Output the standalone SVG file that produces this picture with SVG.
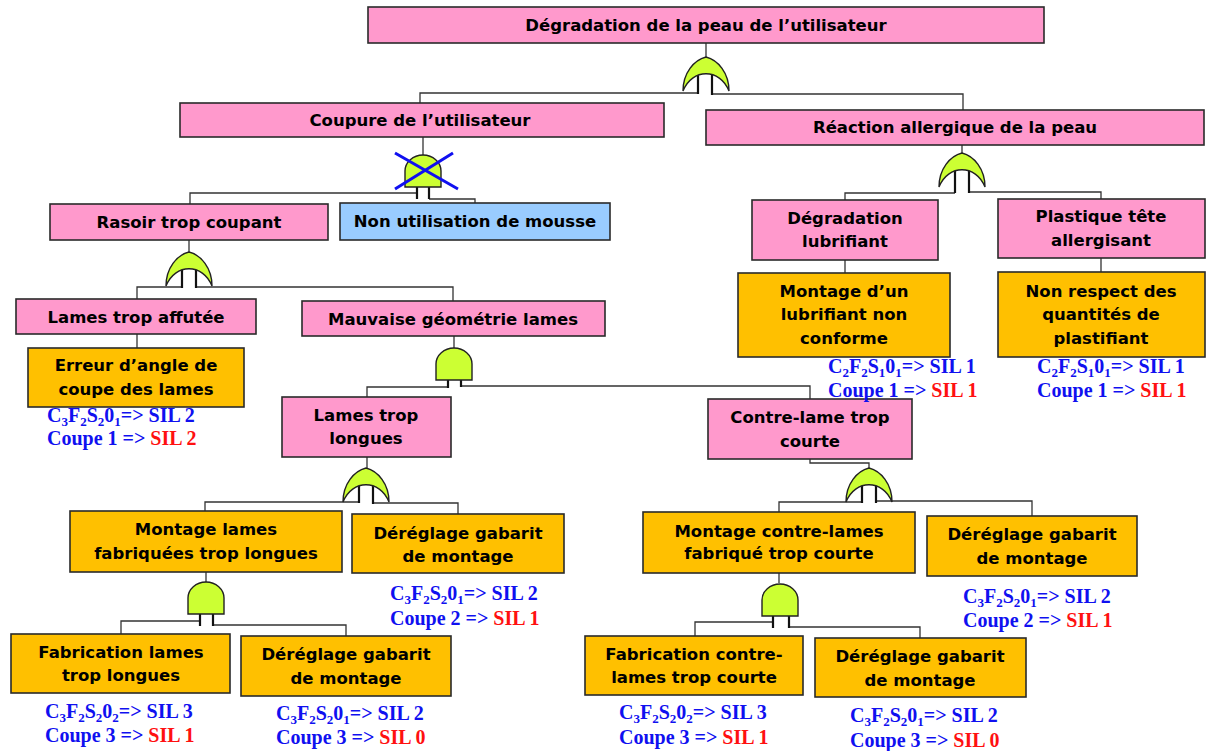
<svg xmlns="http://www.w3.org/2000/svg" xmlns:xlink="http://www.w3.org/1999/xlink" width="1218" height="751" viewBox="0 0 1218 751">
<style>
.bx{stroke:#2a2a2a;stroke-width:1.6}
.pk{fill:#FF99CC}.og{fill:#FFC000}.bl{fill:#99CCFF}
.t{font-family:"DejaVu Sans",sans-serif;font-weight:bold;font-size:16.5px;fill:#000;text-anchor:middle}
.lb{font-family:"Liberation Serif","Times New Roman",serif;font-weight:bold;font-size:20px;fill:#1010F0}
.s{font-size:13px}
.r{fill:#FF1010}
.c{fill:none;stroke:#333;stroke-width:1.3}
.leg{fill:none;stroke:#111;stroke-width:2.2}
.g{fill:#CCFF33;stroke:#222;stroke-width:1.4}
</style>
<defs>
<path id="or" d="M-23,34 C-23,16 -12,3 0,0 C12,3 23,16 23,34 C14,11 -14,11 -23,34 Z"/>
<path id="and" d="M-18,32 L-18,16 A18,16 0 0 1 18,16 L18,32 Z"/>
</defs>
<rect width="1218" height="751" fill="#fff"/>

<g id="connectors">
<path class="c" d="M706,43 V57"/>
<path class="c" d="M698,93 H420 V103 M712,94 H963 V110"/>
<path class="c" d="M423,137 V155"/>
<path class="c" d="M417,193 H190 V204 M429,199 H475 V203"/>
<path class="c" d="M962,145 V153"/>
<path class="c" d="M955,193 H845 V200 M969,192 H1101 V199"/>
<path class="c" d="M845,260 V273 M1101,258 V272"/>
<path class="c" d="M189,240 V252"/>
<path class="c" d="M182,287 H137 V299 M196,287 H453 V301"/>
<path class="c" d="M137,334 V348"/>
<path class="c" d="M454,336 V348"/>
<path class="c" d="M448,387 H367 V397 M461,386 H810 V399"/>
<path class="c" d="M367,457 V468"/>
<path class="c" d="M359,502 H205 V511 M373,503 H458 V514"/>
<path class="c" d="M810,459 V463 H869 V468"/>
<path class="c" d="M862,502 H779 V512 M876,501 H1032 V516"/>
<path class="c" d="M206,572 V582"/>
<path class="c" d="M200,621 H121 V634 M213,625 H346 V636"/>
<path class="c" d="M779,573 V583"/>
<path class="c" d="M773,622 H695 V636 M789,627 H920 V638"/>
<path class="leg" d="M698,74 V94 M712,74 V95"/>
<path class="leg" d="M417,187 V199 M429,187 V199"/>
<path class="leg" d="M955,170 V193 M969,170 V193"/>
<path class="leg" d="M182,269 V288 M196,269 V288"/>
<path class="leg" d="M448,380 V388 M461,380 V387"/>
<path class="leg" d="M359,485 V503 M373,485 V504"/>
<path class="leg" d="M862,485 V503 M876,485 V503"/>
<path class="leg" d="M200,613 V626 M213,613 V626"/>
<path class="leg" d="M773,616 V628 M789,616 V628"/>
</g>

<g id="gate-or-top"><use xlink:href="#or" class="g" transform="translate(706,57)"/></g>
<g id="gate-and-coupure"><use xlink:href="#and" class="g" transform="translate(423,155)"/>
<path d="M395,153 L458,189 M453,153 L395,189" stroke="#1010F0" stroke-width="3" fill="none"/></g>
<g id="gate-or-reaction"><use xlink:href="#or" class="g" transform="translate(962,153)"/></g>
<g id="gate-or-rasoir"><use xlink:href="#or" class="g" transform="translate(189,252)"/></g>
<g id="gate-and-mauvaise"><use xlink:href="#and" class="g" transform="translate(454,348)"/></g>
<g id="gate-or-lames"><use xlink:href="#or" class="g" transform="translate(366,468)"/></g>
<g id="gate-or-contre"><use xlink:href="#or" class="g" transform="translate(869,468)"/></g>
<g id="gate-and-montage-lames"><use xlink:href="#and" class="g" transform="translate(206,582)"/></g>
<g id="gate-and-montage-contre"><use xlink:href="#and" class="g" transform="translate(780,584)"/></g>

<g id="n-top"><rect class="bx pk" x="368" y="7" width="676" height="36"/><text class="t" x="706" y="31">Dégradation de la peau de l’utilisateur</text></g>
<g id="n-coupure"><rect class="bx pk" x="180" y="103" width="484" height="34"/><text class="t" x="420" y="126">Coupure de l’utilisateur</text></g>
<g id="n-reaction"><rect class="bx pk" x="706" y="110" width="498" height="35"/><text class="t" x="955" y="133">Réaction allergique de la peau</text></g>
<g id="n-rasoir"><rect class="bx pk" x="50" y="204" width="278" height="36"/><text class="t" x="189" y="228">Rasoir trop coupant</text></g>
<g id="n-mousse"><rect class="bx bl" x="340" y="203" width="270" height="37"/><text class="t" x="475" y="227">Non utilisation de mousse</text></g>
<g id="n-deg-lub"><rect class="bx pk" x="752" y="200" width="186" height="60"/><text class="t" x="845" y="224">Dégradation</text><text class="t" x="845" y="247">lubrifiant</text></g>
<g id="n-plastique"><rect class="bx pk" x="998" y="199" width="207" height="59"/><text class="t" x="1101" y="222">Plastique tête</text><text class="t" x="1101" y="246">allergisant</text></g>
<g id="n-montage-lub"><rect class="bx og" x="738" y="273" width="212" height="84"/><text class="t" x="844" y="297">Montage d’un</text><text class="t" x="844" y="320">lubrifiant non</text><text class="t" x="844" y="344">conforme</text></g>
<g id="n-non-respect"><rect class="bx og" x="998" y="272" width="207" height="85"/><text class="t" x="1101" y="297">Non respect des</text><text class="t" x="1101" y="320">quantités de</text><text class="t" x="1101" y="344">plastifiant</text></g>
<g id="n-lames-affutee"><rect class="bx pk" x="16" y="299" width="240" height="35"/><text class="t" x="136" y="323">Lames trop affutée</text></g>
<g id="n-mauvaise"><rect class="bx pk" x="302" y="301" width="303" height="35"/><text class="t" x="453" y="325">Mauvaise géométrie lames</text></g>
<g id="n-erreur"><rect class="bx og" x="28" y="348" width="216" height="59"/><text class="t" x="136" y="371">Erreur d’angle de</text><text class="t" x="136" y="395">coupe des lames</text></g>
<g id="n-lames-longues"><rect class="bx pk" x="282" y="397" width="169" height="60"/><text class="t" x="366" y="421">Lames trop</text><text class="t" x="366" y="444">longues</text></g>
<g id="n-contre-lame"><rect class="bx pk" x="708" y="399" width="204" height="60"/><text class="t" x="810" y="423">Contre-lame trop</text><text class="t" x="810" y="447">courte</text></g>
<g id="n-montage-lames"><rect class="bx og" x="70" y="511" width="272" height="61"/><text class="t" x="206" y="535">Montage lames</text><text class="t" x="206" y="559">fabriquées trop longues</text></g>
<g id="n-dereglage-1"><rect class="bx og" x="352" y="514" width="212" height="59"/><text class="t" x="458" y="539">Déréglage gabarit</text><text class="t" x="458" y="562">de montage</text></g>
<g id="n-montage-contre"><rect class="bx og" x="643" y="512" width="272" height="61"/><text class="t" x="779" y="537">Montage contre-lames</text><text class="t" x="779" y="559">fabriqué trop courte</text></g>
<g id="n-dereglage-2"><rect class="bx og" x="927" y="516" width="210" height="60"/><text class="t" x="1032" y="540">Déréglage gabarit</text><text class="t" x="1032" y="564">de montage</text></g>
<g id="n-fab-lames"><rect class="bx og" x="11" y="634" width="219" height="59"/><text class="t" x="121" y="658">Fabrication lames</text><text class="t" x="121" y="681">trop longues</text></g>
<g id="n-dereglage-3"><rect class="bx og" x="241" y="636" width="210" height="60"/><text class="t" x="346" y="660">Déréglage gabarit</text><text class="t" x="346" y="684">de montage</text></g>
<g id="n-fab-contre"><rect class="bx og" x="585" y="636" width="218" height="59"/><text class="t" x="694" y="660">Fabrication contre-</text><text class="t" x="694" y="683">lames trop courte</text></g>
<g id="n-dereglage-4"><rect class="bx og" x="815" y="638" width="211" height="59"/><text class="t" x="920" y="662">Déréglage gabarit</text><text class="t" x="920" y="686">de montage</text></g>

<g id="labels">
<text class="lb" x="828" y="373">C<tspan class="s" dy="4">2</tspan><tspan dy="-4">F</tspan><tspan class="s" dy="4">2</tspan><tspan dy="-4">S</tspan><tspan class="s" dy="4">1</tspan><tspan dy="-4">0</tspan><tspan class="s" dy="4">1</tspan><tspan dy="-4">=&gt; SIL 1</tspan></text>
<text class="lb" x="828" y="397">Coupe 1 =&gt; <tspan class="r">SIL 1</tspan></text>
<text class="lb" x="1037" y="373">C<tspan class="s" dy="4">2</tspan><tspan dy="-4">F</tspan><tspan class="s" dy="4">2</tspan><tspan dy="-4">S</tspan><tspan class="s" dy="4">1</tspan><tspan dy="-4">0</tspan><tspan class="s" dy="4">1</tspan><tspan dy="-4">=&gt; SIL 1</tspan></text>
<text class="lb" x="1037" y="397">Coupe 1 =&gt; <tspan class="r">SIL 1</tspan></text>
<text class="lb" x="47" y="422">C<tspan class="s" dy="4">3</tspan><tspan dy="-4">F</tspan><tspan class="s" dy="4">2</tspan><tspan dy="-4">S</tspan><tspan class="s" dy="4">2</tspan><tspan dy="-4">0</tspan><tspan class="s" dy="4">1</tspan><tspan dy="-4">=&gt; SIL 2</tspan></text>
<text class="lb" x="47" y="445">Coupe 1 =&gt; <tspan class="r">SIL 2</tspan></text>
<text class="lb" x="390" y="600">C<tspan class="s" dy="4">3</tspan><tspan dy="-4">F</tspan><tspan class="s" dy="4">2</tspan><tspan dy="-4">S</tspan><tspan class="s" dy="4">2</tspan><tspan dy="-4">0</tspan><tspan class="s" dy="4">1</tspan><tspan dy="-4">=&gt; SIL 2</tspan></text>
<text class="lb" x="390" y="625">Coupe 2 =&gt; <tspan class="r">SIL 1</tspan></text>
<text class="lb" x="963" y="603">C<tspan class="s" dy="4">3</tspan><tspan dy="-4">F</tspan><tspan class="s" dy="4">2</tspan><tspan dy="-4">S</tspan><tspan class="s" dy="4">2</tspan><tspan dy="-4">0</tspan><tspan class="s" dy="4">1</tspan><tspan dy="-4">=&gt; SIL 2</tspan></text>
<text class="lb" x="963" y="627">Coupe 2 =&gt; <tspan class="r">SIL 1</tspan></text>
<text class="lb" x="45" y="718">C<tspan class="s" dy="4">3</tspan><tspan dy="-4">F</tspan><tspan class="s" dy="4">2</tspan><tspan dy="-4">S</tspan><tspan class="s" dy="4">2</tspan><tspan dy="-4">0</tspan><tspan class="s" dy="4">2</tspan><tspan dy="-4">=&gt; SIL 3</tspan></text>
<text class="lb" x="45" y="742">Coupe 3 =&gt; <tspan class="r">SIL 1</tspan></text>
<text class="lb" x="276" y="720">C<tspan class="s" dy="4">3</tspan><tspan dy="-4">F</tspan><tspan class="s" dy="4">2</tspan><tspan dy="-4">S</tspan><tspan class="s" dy="4">2</tspan><tspan dy="-4">0</tspan><tspan class="s" dy="4">1</tspan><tspan dy="-4">=&gt; SIL 2</tspan></text>
<text class="lb" x="276" y="744">Coupe 3 =&gt; <tspan class="r">SIL 0</tspan></text>
<text class="lb" x="619" y="719">C<tspan class="s" dy="4">3</tspan><tspan dy="-4">F</tspan><tspan class="s" dy="4">2</tspan><tspan dy="-4">S</tspan><tspan class="s" dy="4">2</tspan><tspan dy="-4">0</tspan><tspan class="s" dy="4">2</tspan><tspan dy="-4">=&gt; SIL 3</tspan></text>
<text class="lb" x="619" y="744">Coupe 3 =&gt; <tspan class="r">SIL 1</tspan></text>
<text class="lb" x="850" y="722">C<tspan class="s" dy="4">3</tspan><tspan dy="-4">F</tspan><tspan class="s" dy="4">2</tspan><tspan dy="-4">S</tspan><tspan class="s" dy="4">2</tspan><tspan dy="-4">0</tspan><tspan class="s" dy="4">1</tspan><tspan dy="-4">=&gt; SIL 2</tspan></text>
<text class="lb" x="850" y="747">Coupe 3 =&gt; <tspan class="r">SIL 0</tspan></text>
</g>
</svg>
